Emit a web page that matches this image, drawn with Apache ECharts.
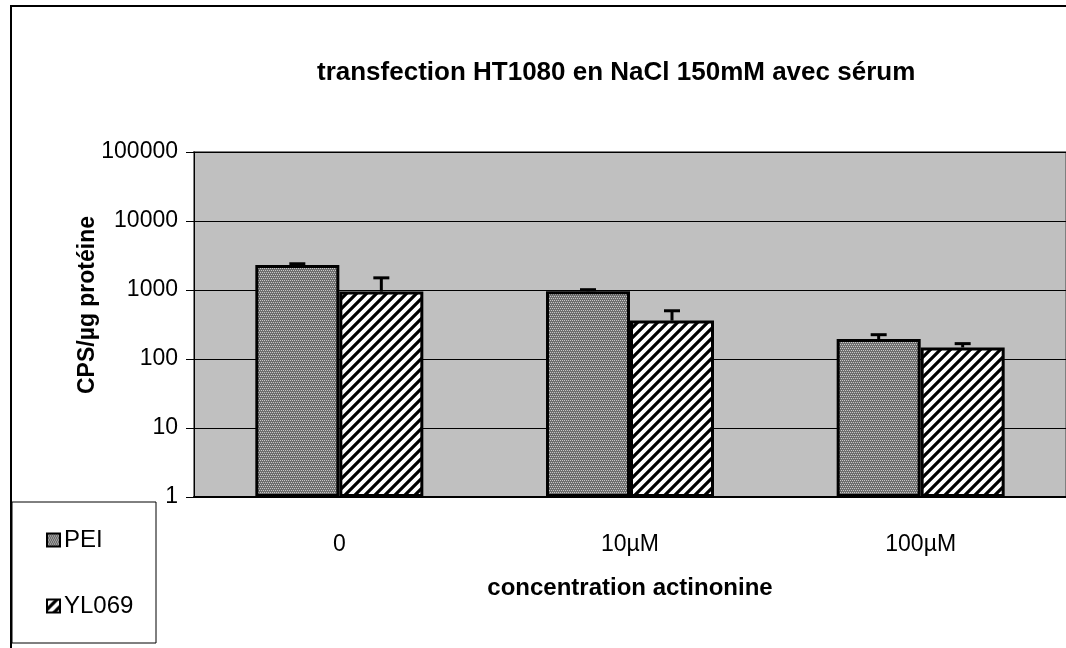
<!DOCTYPE html>
<html lang="fr">
<head>
<meta charset="UTF-8">
<title>transfection HT1080</title>
<script src="https://cdn.jsdelivr.net/npm/echarts@6/dist/echarts.min.js"></script>
<style>
    html, body { margin: 0; width: 100%; height: 100%; background: #fff; }
    #main { width: 1066px; height: 648px; }
</style>
</head>
<body>
<div id="main"></div>
<script>
// données
var categories = ['0', '10µM', '100µM'];
var peiValues = [2300, 960, 195];
var peiErrors = [100, 50, 30];
var ylValues = [950, 360, 147];
var ylErrors = [550, 140, 20];
var yTicks = [1, 10, 100, 1000, 10000, 100000];

// motif gris tramé (PEI)
function makeDotPattern() {
    var c = document.createElement('canvas');
    c.width = 4; c.height = 4;
    var ctx = c.getContext('2d');
    ctx.fillStyle = '#6e6e6e';
    ctx.fillRect(0, 0, 4, 4);
    ctx.fillStyle = '#c8c8c8';
    ctx.fillRect(0, 0, 1, 1);
    ctx.fillRect(2, 0, 1, 1);
    ctx.fillRect(1, 2, 1, 1);
    ctx.fillRect(3, 2, 1, 1);
    return c;
}
// hachures diagonales (YL069)
function makeHatchPattern() {
    var s = 10;
    var c = document.createElement('canvas');
    c.width = s; c.height = s;
    var ctx = c.getContext('2d');
    ctx.fillStyle = '#fff';
    ctx.fillRect(0, 0, s, s);
    ctx.strokeStyle = '#000';
    ctx.lineWidth = 3.2;
    ctx.beginPath();
    ctx.moveTo(-2, s + 2); ctx.lineTo(s + 2, -2);
    ctx.moveTo(-2, 2); ctx.lineTo(2, -2);
    ctx.moveTo(s - 2, s + 2); ctx.lineTo(s + 2, s - 2);
    ctx.stroke();
    return c;
}

var BAR_W = 84;

function errorSeries(values, errors, side) {
    var data = values.map(function (v, i) { return [i, v, v + errors[i]]; });
    return {
        type: 'custom',
        silent: true,
        z: 5,
        data: data,
        renderItem: function (params, api) {
            var top = api.coord([api.value(0), api.value(2)]);
            var base = api.coord([api.value(0), api.value(1)]);
            var x = top[0] + side * BAR_W / 2;
            return {
                type: 'group',
                children: [
                    { type: 'line', shape: { x1: x, y1: base[1], x2: x, y2: top[1] },
                      style: { stroke: '#000', lineWidth: 3 } },
                    { type: 'line', shape: { x1: x - 8, y1: top[1], x2: x + 8, y2: top[1] },
                      style: { stroke: '#000', lineWidth: 3 } }
                ]
            };
        }
    };
}

var chart = echarts.init(document.getElementById('main'));

var option = {
    animation: false,
    textStyle: { fontFamily: 'Liberation Sans, Arial, sans-serif' },
    title: {
        text: 'transfection HT1080 en NaCl 150mM avec sérum',
        left: 312,
        top: 55,
        textStyle: { fontSize: 26, fontWeight: 'bold', color: '#000' }
    },
    graphic: [
        { type: 'rect', z: -1, shape: { x: 11, y: 6, width: 1100, height: 700 },
          style: { fill: null, stroke: '#000', lineWidth: 2 } },
        { type: 'rect', z: 0, shape: { x: 12, y: 502, width: 144, height: 141 },
          style: { fill: '#fff', stroke: '#000', lineWidth: 1 } },
        // titre de l'axe Y
        { type: 'text', x: 88, y: 305, rotation: Math.PI / 2,
          style: { text: 'CPS/µg protéine', align: 'center', verticalAlign: 'middle',
                   font: 'bold 23px "Liberation Sans", Arial, sans-serif', fill: '#000' } }
    ],
    legend: {
        orient: 'vertical',
        left: 41,
        top: 523,
        itemGap: 42,
        itemWidth: 13,
        itemHeight: 13,
        icon: 'rect',
        itemStyle: { borderColor: '#000', borderWidth: 2 },
        textStyle: { fontSize: 24, color: '#000', padding: [0, 0, 0, -1] },
        data: ['PEI', 'YL069']
    },
    grid: {
        show: true,
        left: 194,
        top: 152,
        right: -2,
        bottom: 151,
        backgroundColor: '#c0c0c0',
        borderColor: '#808080',
        borderWidth: 2
    },
    xAxis: {
        type: 'category',
        data: categories,
        name: 'concentration actinonine',
        nameLocation: 'middle',
        nameGap: 79,
        nameTextStyle: { fontSize: 24, fontWeight: 'bold', color: '#000' },
        axisLine: { lineStyle: { color: '#000', width: 2 } },
        axisTick: { length: 10, lineStyle: { color: '#000', width: 1.5 } },
        axisLabel: { fontSize: 23, color: '#000', margin: 36 }
    },
    yAxis: {
        type: 'log',
        logBase: 10,
        min: yTicks[0],
        max: yTicks[yTicks.length - 1],
        axisLine: { show: true, lineStyle: { color: '#000', width: 1 } },
        axisTick: { show: true, length: 8, lineStyle: { color: '#000' } },
        axisLabel: { fontSize: 23, color: '#000', margin: 16,
                     formatter: function (v) { return String(Math.round(v)); } },
        splitLine: { show: true, lineStyle: { color: '#000', width: 1 } }
    },
    series: [
        {
            name: 'PEI',
            type: 'bar',
            barWidth: BAR_W,
            barGap: '0%',
            data: peiValues,
            itemStyle: {
                color: { image: makeDotPattern(), repeat: 'repeat' },
                borderColor: '#000',
                borderWidth: 3
            }
        },
        {
            name: 'YL069',
            type: 'bar',
            barWidth: BAR_W,
            barGap: '0%',
            data: ylValues,
            itemStyle: {
                color: { image: makeHatchPattern(), repeat: 'repeat' },
                borderColor: '#000',
                borderWidth: 3
            }
        },
        errorSeries(peiValues, peiErrors, -1),
        errorSeries(ylValues, ylErrors, 1)
    ]
};

chart.setOption(option);
</script>
</body>
</html>
